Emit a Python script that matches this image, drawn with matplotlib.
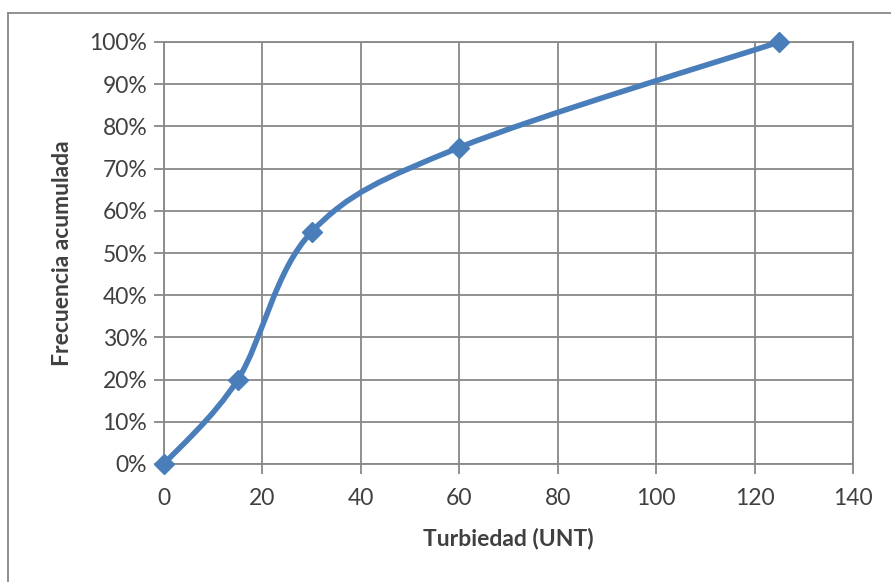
import matplotlib
matplotlib.use("Agg")
import matplotlib.pyplot as plt
from matplotlib.path import Path
from matplotlib.patches import PathPatch
from matplotlib.lines import Line2D
from matplotlib.ticker import PercentFormatter
import numpy as np

turbidity = [0, 15, 30, 60, 125]
cum_freq = [0.0, 0.20, 0.55, 0.75, 1.00]
x_ticks = [0, 20, 40, 60, 80, 100, 120, 140]
y_ticks = [0.0, 0.1, 0.2, 0.3, 0.4, 0.5, 0.6, 0.7, 0.8, 0.9, 1.0]
x_label = "Turbiedad (UNT)"
y_label = "Frecuencia acumulada"

plt.rcParams['font.family'] = ['Lato', 'DejaVu Sans']

W, H = 891, 582
fig = plt.figure(figsize=(W / 100, H / 100), dpi=100)
ax = fig.add_axes([164 / W, 1 - 464 / H, (853 - 164) / W, (464 - 42) / H])

line_color = '#4A7EBB'
grid_color = '#888888'

ax.set_xlim(0, 140)
ax.set_ylim(0, 1)
ax.set_xticks(x_ticks)
ax.set_yticks(y_ticks)
ax.yaxis.set_major_formatter(PercentFormatter(1.0, decimals=0))
ax.grid(True, color=grid_color, linewidth=1.3)
ax.set_axisbelow(True)
for s in ax.spines.values():
    s.set_color(grid_color)
    s.set_linewidth(1.3)
ax.tick_params(axis='both', which='major', length=7, width=1.3, color=grid_color,
               labelsize=16.5, labelcolor='#404040', direction='out')
ax.tick_params(axis='x', pad=10)
ax.tick_params(axis='y', pad=5)

ax.set_xlabel(x_label, fontsize=16.5, fontweight='bold', color='#404040', labelpad=14)
ax.set_ylabel(y_label, fontsize=16.5, fontweight='bold', color='#404040', labelpad=12)

# Excel-style smoothed line: cubic Bezier segments with Catmull-Rom control points
aw = (853 - 164)
ah = (464 - 42)
px = np.array(turbidity) / 140.0 * aw
py = np.array(cum_freq) * ah
n = len(px)
verts = [(px[0], py[0])]
codes = [Path.MOVETO]
for i in range(n - 1):
    i0 = max(i - 1, 0)
    i3 = min(i + 2, n - 1)
    c1 = (px[i] + (px[i + 1] - px[i0]) / 6.0, py[i] + (py[i + 1] - py[i0]) / 6.0)
    c2 = (px[i + 1] - (px[i3] - px[i]) / 6.0, py[i + 1] - (py[i3] - py[i]) / 6.0)
    verts += [c1, c2, (px[i + 1], py[i + 1])]
    codes += [Path.CURVE4] * 3
verts = [(vx / aw * 140.0, vy / ah) for vx, vy in verts]
path = Path(verts, codes)
ax.add_patch(PathPatch(path, facecolor='none', edgecolor=line_color, linewidth=4,
                       capstyle='round', joinstyle='round', clip_on=False, zorder=3))
ax.plot(turbidity, cum_freq, linestyle='none', marker='D', markersize=10,
        color=line_color, clip_on=False, zorder=4)

# outer chart border (left and top visible)
fig.add_artist(Line2D([8 / W, 8 / W], [0, 1 - 13 / H], color='#888888', linewidth=1.3))
fig.add_artist(Line2D([8 / W, 1], [1 - 13 / H, 1 - 13 / H], color='#888888', linewidth=1.3))

fig.savefig('out.png', dpi=100)
